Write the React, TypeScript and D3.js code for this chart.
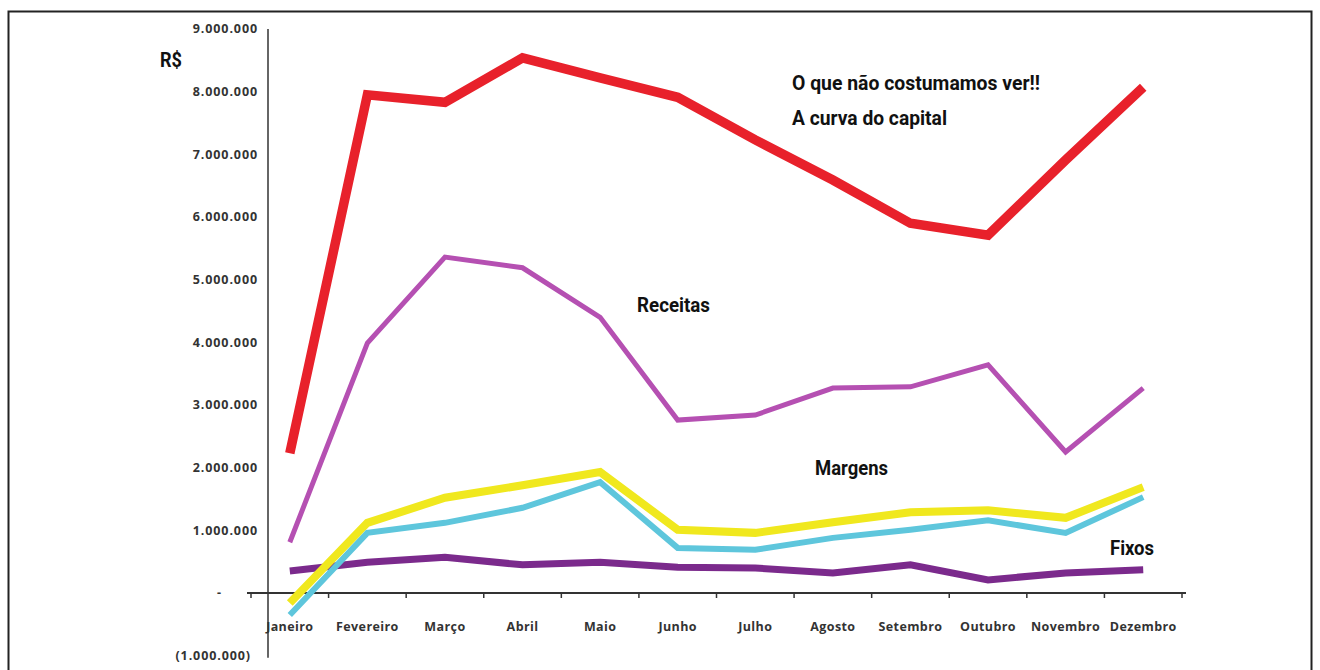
import React from "react";
import * as d3 from "d3";

const months = ["Janeiro", "Fevereiro", "Março", "Abril", "Maio", "Junho", "Julho", "Agosto", "Setembro", "Outubro", "Novembro", "Dezembro"];
const capital = [2.23, 7.95, 7.83, 8.54, 8.22, 7.91, 7.23, 6.59, 5.90, 5.71, 6.91, 8.07].map((v) => v * 1e6);
const receitas = [0.81, 3.99, 5.36, 5.19, 4.40, 2.76, 2.84, 3.27, 3.29, 3.64, 2.25, 3.27].map((v) => v * 1e6);
const margemA = [-0.16, 1.12, 1.52, 1.72, 1.93, 1.01, 0.96, 1.13, 1.29, 1.32, 1.20, 1.69].map((v) => v * 1e6);
const margemB = [-0.35, 0.96, 1.12, 1.36, 1.77, 0.72, 0.69, 0.88, 1.01, 1.16, 0.96, 1.53].map((v) => v * 1e6);
const fixos = [0.35, 0.49, 0.57, 0.45, 0.49, 0.41, 0.40, 0.32, 0.45, 0.21, 0.32, 0.37].map((v) => v * 1e6);
const yTicks = [9e6, 8e6, 7e6, 6e6, 5e6, 4e6, 3e6, 2e6, 1e6, 0, -1e6];

const formatTick = (v: number) => {
  if (v === 0) return "-";
  const s = Math.abs(v).toString().replace(/\B(?=(\d{3})+(?!\d))/g, ".");
  return v < 0 ? `(${s})` : s;
};

const series = [
  { name: "fixos", values: fixos, color: "#7b2a8c", width: 7 },
  { name: "margemA", values: margemA, color: "#f0e81e", width: 8 },
  { name: "margemB", values: margemB, color: "#5ec6dc", width: 6 },
  { name: "receitas", values: receitas, color: "#b550b2", width: 5 },
  { name: "capital", values: capital, color: "#e8212b", width: 9.5 },
];

export default function App() {
  const x = d3.scaleBand<string>().domain(months).range([251, 1182]).padding(0);
  const y = d3.scaleLinear().domain([-1e6, 9e6]).range([655.7, 29]);
  const cx = (m: string) => (x(m) as number) + x.bandwidth() / 2;
  const line = d3
    .line<number>()
    .x((_, i) => cx(months[i]))
    .y((d) => y(d))
    .curve(d3.curveLinear);

  const edges = months.map((m) => x(m) as number).concat([x.range()[1]]);
  const boldCond = { fontFamily: "Roboto, sans-serif", fontWeight: 700, fill: "#111" } as const;
  const tickFont = { fontFamily: "'Open Sans', sans-serif", fontWeight: 700, fontSize: 12.5, fill: "#333", letterSpacing: 0.9 } as const;

  return (
    <svg width={1320} height={670} style={{ position: "absolute", left: 0, top: 0, background: "#fff" }}>
      <rect x={8.5} y={11.5} width={1303} height={670} fill="none" stroke="#222" strokeWidth={2} />

      {/* Y axis */}
      <line x1={268} x2={268} y1={y(9e6)} y2={y(-1e6) + 2} stroke="#666" strokeWidth={2} />
      {yTicks.map((t) => (
        <text
          key={t}
          x={t === 0 ? 222 : t < 0 ? 251 : 258}
          y={y(t)}
          dy="0.35em"
          textAnchor="end"
          style={tickFont}
        >
          {formatTick(t)}
        </text>
      ))}

      {/* X axis */}
      <line x1={247} x2={1186} y1={y(0)} y2={y(0)} stroke="#333" strokeWidth={2} />
      {edges.map((e, i) => (
        <line key={i} x1={e} x2={e} y1={y(0)} y2={y(0) + 5} stroke="#333" strokeWidth={1.5} />
      ))}
      {months.map((m) => (
        <text key={m} x={cx(m)} y={627} dy="0.35em" textAnchor="middle" style={{ ...tickFont, fontSize: 12.5, letterSpacing: 0.4 }}>
          {m}
        </text>
      ))}

      {/* Lines */}
      {series.map((s) => (
        <path
          key={s.name}
          d={line(s.values) as string}
          fill="none"
          stroke={s.color}
          strokeWidth={s.width}
          strokeLinejoin="miter"
          strokeLinecap="butt"
        />
      ))}

      {/* Annotations */}
      <text x={160} y={67} textLength={22} lengthAdjust="spacingAndGlyphs" style={{ ...boldCond, fontSize: 21 }}>
        R$
      </text>
      <text x={792} y={90} textLength={248} lengthAdjust="spacingAndGlyphs" style={{ ...boldCond, fontSize: 20 }}>
        O que não costumamos ver!!
      </text>
      <text x={792} y={125} textLength={155} lengthAdjust="spacingAndGlyphs" style={{ ...boldCond, fontSize: 20 }}>
        A curva do capital
      </text>
      <text x={637} y={312} textLength={73} lengthAdjust="spacingAndGlyphs" style={{ ...boldCond, fontSize: 20 }}>
        Receitas
      </text>
      <text x={815} y={475} textLength={73} lengthAdjust="spacingAndGlyphs" style={{ ...boldCond, fontSize: 20 }}>
        Margens
      </text>
      <text x={1110} y={555} textLength={44} lengthAdjust="spacingAndGlyphs" style={{ ...boldCond, fontSize: 21 }}>
        Fixos
      </text>
    </svg>
  );
}
